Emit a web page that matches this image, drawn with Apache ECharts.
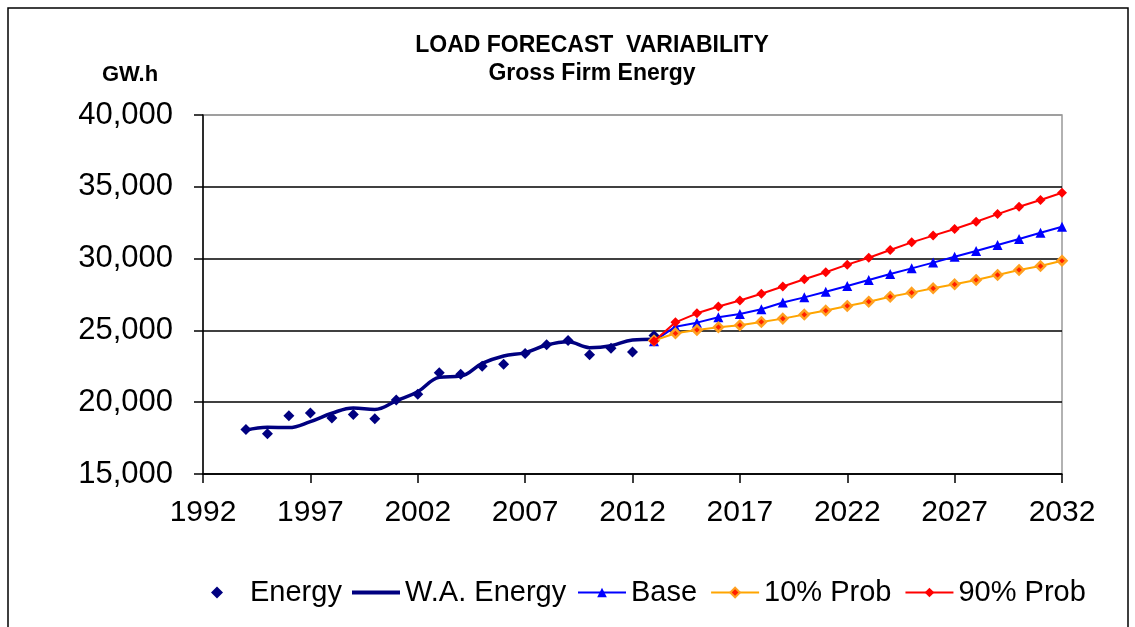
<!DOCTYPE html>
<html>
<head>
<meta charset="utf-8">
<style>
  html, body { margin: 0; padding: 0; background: #fff; }
  #chart { width: 1135px; height: 627px; }
</style>
<script src="https://cdn.jsdelivr.net/npm/echarts@6/dist/echarts.min.js"></script>
</head>
<body>
<div id="chart"></div>
<script>
  // 历史年份与数据
  const histYears = [1994, 1995, 1996, 1997, 1998, 1999, 2000, 2001, 2002, 2003,
    2004, 2005, 2006, 2007, 2008, 2009, 2010, 2011, 2012, 2013];
  const energy = [18100, 17800, 19050, 19250, 18900, 19150, 18850, 20150, 20550, 22050,
    21950, 22500, 22650, 23400, 24000, 24300, 23300, 23750, 23500, 24650];
  const waEnergy = [18050, 18250, 18230, 18650, 19230, 19600, 19500, 20100, 20730, 21730,
    21820, 22700, 23220, 23450, 23980, 24210, 23800, 23930, 24330, 24380];

  // 预测年份与数据
  const fcYears = [2013, 2014, 2015, 2016, 2017, 2018, 2019, 2020, 2021, 2022,
    2023, 2024, 2025, 2026, 2027, 2028, 2029, 2030, 2031, 2032];
  const base = [24250, 25260, 25540, 25910, 26140, 26470, 26940, 27300, 27690, 28090,
    28510, 28930, 29320, 29720, 30130, 30530, 30950, 31370, 31800, 32220];
  const prob10 = [24300, 24800, 25030, 25220, 25360, 25590, 25820, 26100, 26380, 26700,
    27000, 27350, 27630, 27930, 28210, 28510, 28860, 29210, 29480, 29850];
  const prob90 = [24250, 25560, 26190, 26660, 27080, 27550, 28060, 28560, 29050, 29580,
    30060, 30600, 31130, 31600, 32060, 32570, 33100, 33610, 34080, 34590];

  const FONT = 'Liberation Sans, Arial, sans-serif';

  const pairs = (xs, ys) => xs.map((x, i) => [x, ys[i]]);

  const chart = echarts.init(document.getElementById('chart'));

  const legendText = { fontFamily: FONT, fontSize: 29, color: '#000' };

  const option = {
    animation: false,
    backgroundColor: '#fff',
    title: [
      {
        text: 'LOAD FORECAST  VARIABILITY\nGross Firm Energy',
        left: 587,
        top: 27,
        textAlign: 'center',
        textStyle: { fontFamily: FONT, fontSize: 23, fontWeight: 'bold', color: '#000', lineHeight: 28 }
      },
      {
        text: 'GW.h',
        left: 125,
        top: 59,
        textAlign: 'center',
        textStyle: { fontFamily: FONT, fontSize: 22, fontWeight: 'bold', color: '#000' }
      }
    ],
    graphic: [
      {
        type: 'rect',
        shape: { x: 8, y: 8, width: 1120, height: 660 },
        style: { fill: 'none', stroke: '#000', lineWidth: 1.5 },
        silent: true
      }
    ],
    grid: {
      left: 203,
      right: 73,
      top: 115,
      bottom: 153,
      show: true,
      borderColor: '#999',
      borderWidth: 1.5,
      backgroundColor: 'transparent'
    },
    legend: [
      {
        data: ['Energy'],
        left: 211,
        top: 578,
        padding: 0,
        itemWidth: 12,
        itemHeight: 12,
        textStyle: Object.assign({ padding: [0, 0, 0, 22] }, legendText)
      },
      {
        data: [{ name: 'W.A. Energy', icon: 'rect' }],
        left: 352,
        top: 578,
        padding: 0,
        itemWidth: 48,
        itemHeight: 4,
        textStyle: legendText
      },
      {
        data: ['Base', '10% Prob', '90% Prob'],
        left: 577,
        top: 578,
        padding: 0,
        itemWidth: 48,
        itemHeight: 12,
        itemGap: 13,
        textStyle: legendText
      }
    ],
    xAxis: {
      type: 'value',
      min: 1992,
      max: 2032,
      interval: 5,
      axisLine: { show: true, onZero: false, lineStyle: { color: '#000', width: 1.5 } },
      axisTick: { show: true, length: 9, lineStyle: { color: '#000', width: 1.5 } },
      axisLabel: { fontFamily: FONT, fontSize: 30, color: '#000', margin: 24, formatter: v => String(v) },
      splitLine: { show: false }
    },
    yAxis: {
      type: 'value',
      min: 15000,
      max: 40000,
      interval: 5000,
      axisLine: { show: true, lineStyle: { color: '#000', width: 1.5 } },
      axisTick: { show: true, length: 9, lineStyle: { color: '#000', width: 1.5 } },
      axisLabel: {
        fontFamily: FONT,
        fontSize: 31,
        color: '#000',
        margin: 30,
        formatter: v => v.toLocaleString('en-US')
      },
      splitLine: {
        show: true,
        lineStyle: { color: ['#000', '#000', '#000', '#000', '#000', '#999'], width: 1.5 }
      }
    },
    series: [
      {
        name: 'Energy',
        type: 'scatter',
        data: pairs(histYears, energy),
        symbol: 'diamond',
        symbolSize: 11,
        itemStyle: { color: '#000080', opacity: 1 },
        z: 3
      },
      {
        name: 'W.A. Energy',
        type: 'line',
        data: pairs(histYears, waEnergy),
        smooth: 0.4,
        showSymbol: false,
        symbol: 'none',
        lineStyle: { color: '#000080', width: 3.5 },
        itemStyle: { color: '#000080' },
        z: 2
      },
      {
        name: 'Base',
        type: 'line',
        data: pairs(fcYears, base),
        symbol: 'triangle',
        symbolSize: 10,
        lineStyle: { color: '#0000FF', width: 2 },
        itemStyle: { color: '#0000FF' },
        z: 4
      },
      {
        name: '10% Prob',
        type: 'line',
        data: pairs(fcYears, prob10),
        symbol: 'diamond',
        symbolSize: 9,
        lineStyle: { color: '#FFA500', width: 2 },
        itemStyle: { color: '#FF2000', borderColor: '#FFA020', borderWidth: 2.5 },
        z: 4
      },
      {
        name: '90% Prob',
        type: 'line',
        data: pairs(fcYears, prob90),
        symbol: 'diamond',
        symbolSize: 10,
        lineStyle: { color: '#FF0000', width: 2 },
        itemStyle: { color: '#FF0000' },
        z: 5
      }
    ]
  };

  chart.setOption(option);
</script>
</body>
</html>
